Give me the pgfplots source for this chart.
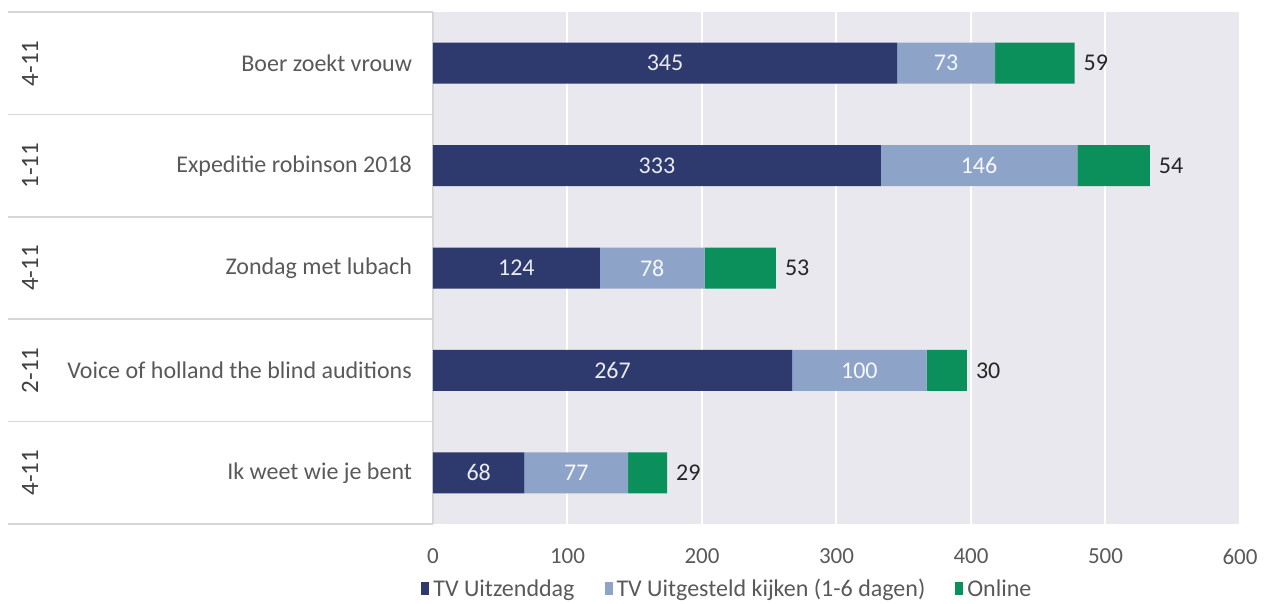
\documentclass[border=0pt]{standalone}
\usepackage{pgfplots}
\pgfplotsset{compat=1.18}
\usepackage{pgfplotstable}
\usepackage{fontspec}
\setmainfont{Carlito}

\definecolor{navy}{HTML}{2E3A6E}
\definecolor{lightblue}{HTML}{8EA3C8}
\definecolor{online}{HTML}{0B8F5B}
\definecolor{plotbg}{HTML}{E9E8EE}
\definecolor{sep}{HTML}{D6D6D6}
\definecolor{ticktext}{HTML}{595959}

% y: 4 = top row
\pgfplotstableread{
y uitz uitg online
4 345 73 59
3 333 146 54
2 124 78 53
1 267 100 30
0 68 77 29
}\kijkcijfers

\pgfplotsset{samebox/.style={
    scale only axis,
    width=403.5pt, height=256pt,
    xmin=0, xmax=600,
    ymin=-0.5, ymax=4.5,
    clip=false,
    /pgf/number format/assume math mode=true,
}}

\begin{document}
\begin{tikzpicture}
\begin{axis}[
    samebox,
    xbar stacked,
    bar width=20.5pt,
    axis background/.style={fill=plotbg},
    axis line style={draw=none},
    xmajorgrids,
    major grid style={white, line width=1pt},
    xtick={0,100,...,600},
    ytick={0,1,2,3,4},
    yticklabels={Ik weet wie je bent, Voice of holland the blind auditions, Zondag met lubach, Expeditie robinson 2018, Boer zoekt vrouw},
    major tick length=0pt,
    xticklabel style={font=\fontsize{11.5}{13}\selectfont, text=ticktext, yshift=-9pt},
    yticklabel style={font=\fontsize{12}{14}\selectfont, text=ticktext, xshift=-7pt},
    legend style={at={(rel axis cs:0,0)}, anchor=north west, yshift=-25.5pt, xshift=-6pt,
        draw=none, fill=none, legend columns=-1, font=\fontsize{12}{14}\selectfont,
        text=ticktext, /tikz/every even column/.append style={column sep=13pt},
        inner sep=0pt},
    legend image code/.code={\fill[#1] (0cm,-0.1cm) rectangle (0.14cm,0.14cm);},
]
\addplot[fill=navy, draw=none] table[x=uitz, y=y] {\kijkcijfers};
\addlegendentry{TV Uitzenddag}
\addplot[fill=lightblue, draw=none] table[x=uitg, y=y] {\kijkcijfers};
\addlegendentry{TV Uitgesteld kijken (1-6 dagen)}
\addplot[fill=online, draw=none] table[x=online, y=y] {\kijkcijfers};
\addlegendentry{Online}

% table rows on the left
\pgfplotsinvokeforeach{-0.5,0.5,1.5,2.5,3.5,4.5}{
    \draw[sep, line width=0.8pt] ([xshift=-212.5pt]axis cs:0,#1) -- (axis cs:0,#1);
}
\draw[sep, line width=0.6pt] (axis cs:0,-0.5) -- (axis cs:0,4.5);
\node[rotate=90, font=\fontsize{12.5}{14}\selectfont, text=black!75] at ([xshift=-201.5pt]axis cs:0,4) {4-11};
\node[rotate=90, font=\fontsize{12.5}{14}\selectfont, text=black!75] at ([xshift=-201.5pt]axis cs:0,3) {1-11};
\node[rotate=90, font=\fontsize{12.5}{14}\selectfont, text=black!75] at ([xshift=-201.5pt]axis cs:0,2) {4-11};
\node[rotate=90, font=\fontsize{12.5}{14}\selectfont, text=black!75] at ([xshift=-201.5pt]axis cs:0,1) {2-11};
\node[rotate=90, font=\fontsize{12.5}{14}\selectfont, text=black!75] at ([xshift=-201.5pt]axis cs:0,0) {4-11};
% page extent
\path ([xshift=-216.5pt, yshift=6pt]rel axis cs:0,1) rectangle ([xshift=12.5pt, yshift=-38.5pt]rel axis cs:1,0);
\end{axis}

% value labels, same frame, not stacked
\begin{axis}[
    samebox,
    hide axis,
    point meta=explicit,
    nodes near coords,
    nodes near coords style={font=\fontsize{12}{14}\selectfont},
]
\addplot[only marks, mark=none, nodes near coords style={anchor=center, text=white!90!navy}]
    table[x expr=\thisrow{uitz}/2, y=y, meta=uitz] {\kijkcijfers};
\addplot[only marks, mark=none, nodes near coords style={anchor=center, text=white!92!lightblue}]
    table[x expr=\thisrow{uitz}+\thisrow{uitg}/2, y=y, meta=uitg] {\kijkcijfers};
\addplot[only marks, mark=none, nodes near coords style={anchor=west, text=black!85, xshift=1pt}]
    table[x expr=\thisrow{uitz}+\thisrow{uitg}+\thisrow{online}, y=y, meta=online] {\kijkcijfers};
\end{axis}
\end{tikzpicture}
\end{document}
